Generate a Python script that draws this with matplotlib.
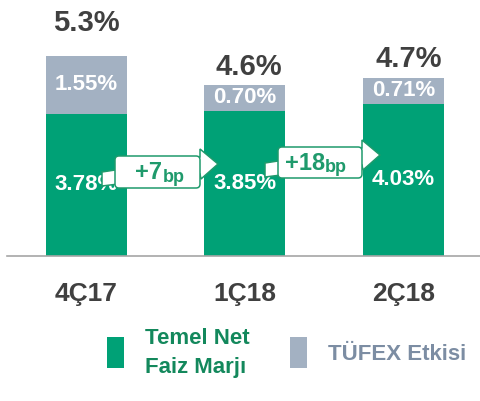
import matplotlib
matplotlib.use("Agg")
import matplotlib.pyplot as plt
from matplotlib.patches import Polygon, FancyBboxPatch, Rectangle

# data
quarters = ["4Ç17", "1Ç18", "2Ç18"]
core_nim = [3.78, 3.85, 4.03]        # Temel Net Faiz Marjı
cpi_effect = [1.55, 0.70, 0.71]      # TÜFEX Etkisi
totals = [5.3, 4.6, 4.7]
bp_changes = [7, 18]

GREEN = "#00A176"
GREY = "#A3B1C2"
DARK = "#404040"
EDGE = "#1F9A6C"

plt.rcParams["font.family"] = ["Liberation Sans Narrow", "Liberation Sans", "DejaVu Sans"]
plt.rcParams["font.weight"] = "bold"

W, H = 481, 401
fig = plt.figure(figsize=(W / 100, H / 100), dpi=100)

# main bar axes: baseline at y=255.5 px, bars centered 86.5 / 245 / 403.5 px
ax = fig.add_axes([7 / W, (H - 255.5) / H, 473 / W, 255.5 / H])
x = list(range(len(quarters)))
ax.bar(x, core_nim, width=0.51, color=GREEN, zorder=2)
ax.bar(x, cpi_effect, width=0.51, bottom=core_nim, color=GREY, zorder=2)
ax.set_xlim(-0.5, 2.484)
ax.set_ylim(0, 6.81)
for s in ["top", "right", "left"]:
    ax.spines[s].set_visible(False)
ax.spines["bottom"].set_color("#A6A6A6")
ax.spines["bottom"].set_linewidth(1.2)
ax.set_yticks([])
ax.set_xticks(x)
ax.set_xticklabels(quarters, fontsize=19, color=DARK, fontweight="bold")
ax.tick_params(axis="x", length=0, pad=19)

# value labels
for i in x:
    ax.text(i, core_nim[i] / 2, f"{core_nim[i]:.2f}%", ha="center", va="center",
            color="white", fontsize=16, fontweight="bold", zorder=3)
    ax.text(i, core_nim[i] + cpi_effect[i] / 2, f"{cpi_effect[i]:.2f}%", ha="center",
            va="center", color="white", fontsize=16, fontweight="bold", zorder=3)
top_offsets = [25, 10, 11]
top_dx = [0, 4, 5]
for i in x:
    ax.annotate(f"{totals[i]:.1f}%", (i, core_nim[i] + cpi_effect[i]),
                xytext=(top_dx[i], top_offsets[i]), textcoords="offset pixels",
                ha="center", va="baseline", fontsize=21, fontweight="bold", color=DARK)

# overlay in pixel coords for the callouts and legend
ov = fig.add_axes([0, 0, 1, 1])
ov.set_xlim(0, W)
ov.set_ylim(H, 0)
ov.axis("off")


def callout(bx, by, bw, bh, change):
    pts = [(bx - 13, by + 16), (bx + bw, by + 1), (bx + bw, by - 7),
           (bx + bw + 18, by + 8), (bx + bw + 1, by + 23), (bx + bw, by + 18),
           (bx - 13, by + 30)]
    ov.add_patch(Polygon(pts, closed=True, facecolor="white", edgecolor=EDGE,
                         linewidth=1.1, zorder=1))
    ov.add_patch(FancyBboxPatch((bx, by), bw, bh, boxstyle="round,pad=0,rounding_size=4",
                                facecolor="white", edgecolor=EDGE, linewidth=1.1, zorder=2))
    cx = bx + bw / 2
    ov.text(cx + 5, by + bh / 2 + 7, f"+{change}", ha="right", va="baseline",
            fontsize=17, fontweight="bold", color=EDGE, zorder=3)
    ov.text(cx + 5, by + bh / 2 + 10, "bp", ha="left", va="baseline",
            fontsize=13, fontweight="bold", color=EDGE, zorder=3)


callout(115, 156, 85, 32, bp_changes[0])
callout(278, 147, 84, 31, bp_changes[1])

# legend
ov.add_patch(Rectangle((107, 337), 17, 31, facecolor=GREEN, edgecolor="none"))
ov.add_patch(Rectangle((290, 337), 17, 31, facecolor=GREY, edgecolor="none"))
ov.text(145, 353, "Temel Net\nFaiz Marjı", ha="left", va="center", fontsize=16,
        fontweight="bold", color="#13885C", linespacing=1.45)
ov.text(328, 354, "TÜFEX Etkisi", ha="left", va="center", fontsize=16,
        fontweight="bold", color="#7C8DA3")

fig.savefig("out.png", dpi=100)
